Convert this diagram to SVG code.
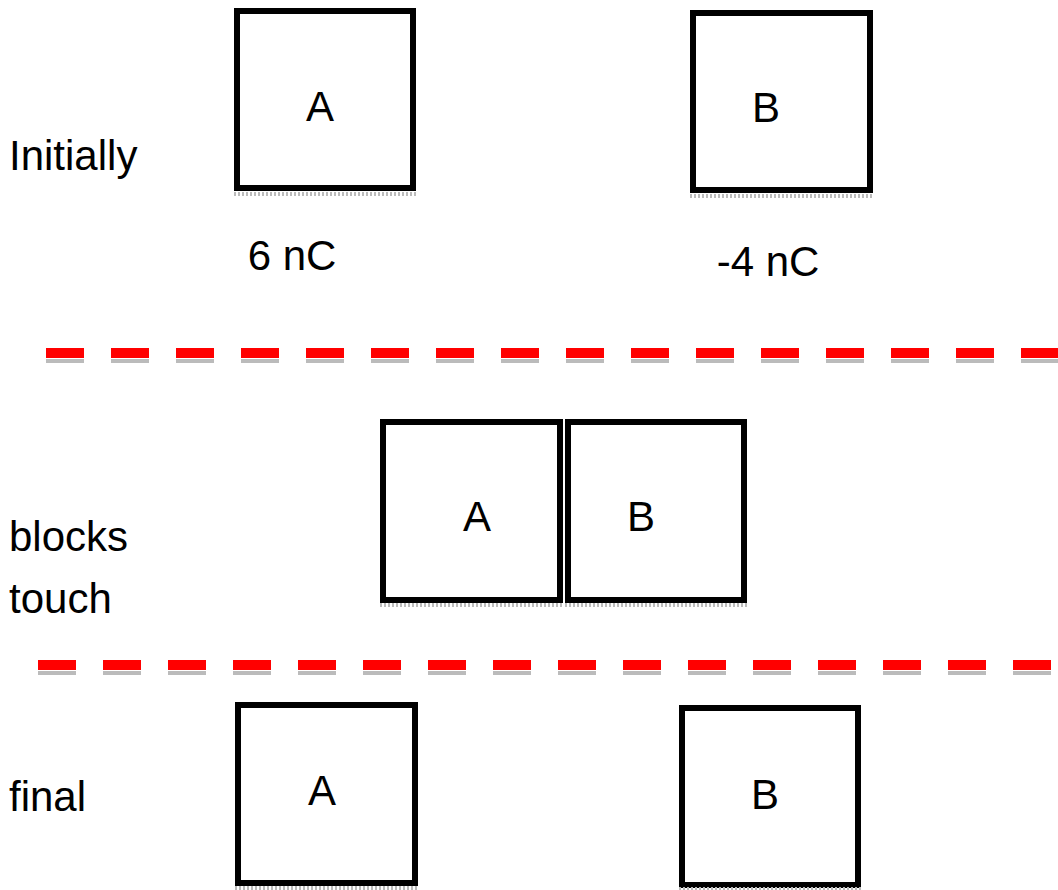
<svg xmlns="http://www.w3.org/2000/svg" width="1058" height="890" viewBox="0 0 1058 890">
<style>
.box{fill:#fff;stroke:#000;stroke-width:6}
.t{font-family:"Liberation Sans",Arial,sans-serif;font-size:42px;fill:#000}
.c{text-anchor:middle}
.dash{stroke:#f00;stroke-width:10;stroke-dasharray:38 27;fill:none}
.dshd{stroke:#bbb;stroke-width:4;stroke-dasharray:38 27;fill:none}
.shd{stroke:#bbb;stroke-width:4;stroke-dasharray:2 2;fill:none}
</style>
<rect width="1058" height="890" fill="#fff"/>
<g id="labels">
<text class="t" x="9" y="170">Initially</text>
<text class="t" x="9" y="551">blocks</text>
<text class="t" x="9" y="613">touch</text>
<text class="t" x="9" y="811">final</text>
<text class="t c" x="292" y="270">6 nC</text>
<text class="t c" x="768" y="276">-4 nC</text>
</g>
<g id="connectors">
<line class="dash" x1="46" y1="353" x2="1058" y2="353"/>
<line class="dshd" x1="46" y1="361" x2="1058" y2="361"/>
<line class="dash" x1="38" y1="665" x2="1058" y2="665"/>
<line class="dshd" x1="38" y1="673" x2="1058" y2="673"/>
</g>
<g id="A1">
<rect class="box" x="237" y="11" width="176" height="177"/>
<line class="shd" x1="234" y1="194" x2="416" y2="194"/>
<text class="t c" x="320" y="121">A</text>
</g>
<g id="B1">
<rect class="box" x="693" y="13" width="177" height="177"/>
<line class="shd" x1="690" y1="196" x2="873" y2="196"/>
<text class="t c" x="766" y="122">B</text>
</g>
<g id="A2">
<rect class="box" x="383" y="422" width="177" height="178"/>
<line class="shd" x1="380" y1="605" x2="563" y2="605"/>
<text class="t c" x="477" y="531">A</text>
</g>
<g id="B2">
<rect class="box" x="568" y="422" width="176" height="178"/>
<line class="shd" x1="565" y1="605" x2="747" y2="605"/>
<text class="t c" x="641" y="531">B</text>
</g>
<g id="A3">
<rect class="box" x="238" y="705" width="177" height="178"/>
<line class="shd" x1="235" y1="888" x2="418" y2="888"/>
<text class="t c" x="322" y="805">A</text>
</g>
<g id="B3">
<rect class="box" x="682" y="708" width="176" height="177"/>
<line class="shd" x1="679" y1="889" x2="861" y2="889"/>
<text class="t c" x="765" y="809">B</text>
</g>
</svg>
